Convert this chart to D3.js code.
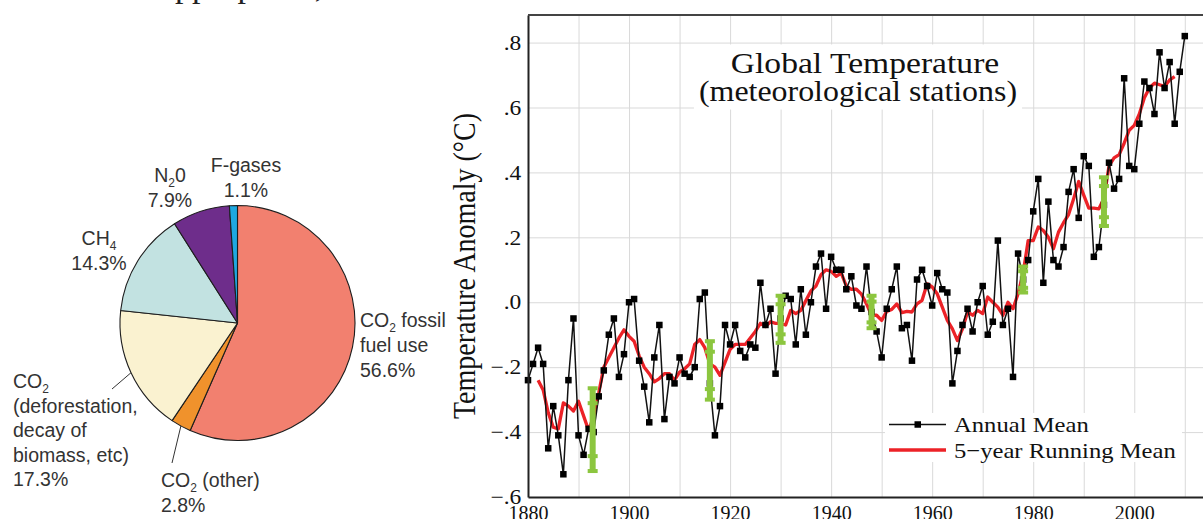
<!DOCTYPE html>
<html>
<head>
<meta charset="utf-8">
<script src="https://cdn.jsdelivr.net/npm/d3@7"></script>
<style>
  html, body { margin: 0; padding: 0; background: #fff; }
  svg { display: block; }
</style>
</head>
<body>
<svg id="chart" width="1203" height="519"></svg>
<script>
// ---------- pie data (greenhouse gas shares, %)
const pieCategories = ["CO2 fossil fuel use", "CO2 (other)", "CO2 (deforestation, decay of biomass, etc)", "CH4", "N2O", "F-gases"];
const pieValues = [56.6, 2.8, 17.3, 14.3, 7.9, 1.1];
const pieColors = ["#f2806f", "#f0922c", "#faf2d0", "#c2e2e1", "#6e2d8b", "#1ea8e0"];

// ---------- global temperature anomaly (°C), annual mean 1880-2010
const firstYear = 1880;
const annualMean = [
  -0.24, -0.19, -0.14, -0.19, -0.45, -0.32, -0.41, -0.53, -0.24, -0.05,
  -0.41, -0.47, -0.39, -0.40, -0.29, -0.21, -0.10, -0.05, -0.23, -0.16,
   0.00,  0.01, -0.18, -0.26, -0.37, -0.17, -0.07, -0.36, -0.23, -0.25,
  -0.17, -0.22, -0.23, -0.20,  0.01,  0.03, -0.25, -0.41, -0.32, -0.07,
  -0.13, -0.07, -0.15, -0.17, -0.13, -0.14,  0.06, -0.07, -0.02, -0.22,
  -0.05,  0.02,  0.01, -0.13,  0.04, -0.10,  0.00,  0.11,  0.15, -0.02,
   0.14,  0.10,  0.10,  0.04,  0.08, -0.01, -0.02,  0.11, -0.03, -0.09,
  -0.17, -0.02,  0.04,  0.11, -0.08, -0.07, -0.18,  0.07,  0.10,  0.05,
  -0.01,  0.09,  0.04,  0.03, -0.25, -0.15, -0.07, -0.02, -0.09,  0.00,
   0.05, -0.10, -0.06,  0.19, -0.07, -0.02, -0.23,  0.15,  0.07,  0.13,
   0.28,  0.38,  0.06,  0.31,  0.13,  0.11,  0.17,  0.34,  0.41,  0.26,
   0.45,  0.42,  0.14,  0.17,  0.30,  0.43,  0.35,  0.38,  0.69,  0.42,
   0.41,  0.55,  0.68,  0.66,  0.58,  0.77,  0.66,  0.74,  0.55,  0.71,
   0.82
];

// 5-year running mean, 1882-2008
const runningFirstYear = 1882;
const runningMean = [
                -0.24, -0.27, -0.34, -0.385, -0.39, -0.31, -0.32, -0.335,
  -0.305, -0.35, -0.395, -0.35, -0.28, -0.20, -0.17, -0.14, -0.11, -0.085,
  -0.105, -0.12, -0.165, -0.20, -0.22, -0.245, -0.235, -0.22, -0.22, -0.24,
  -0.215, -0.205, -0.19, -0.13, -0.115, -0.14, -0.19, -0.20, -0.225, -0.185,
  -0.145, -0.13, -0.13, -0.13, -0.11, -0.09, -0.065, -0.075, -0.06, -0.065,
  -0.065, -0.07, -0.025, -0.035, -0.025, 0.005, 0.035, 0.05, 0.085, 0.10,
   0.095, 0.08, 0.09, 0.05, 0.04, 0.04, 0.025, -0.005, -0.04, -0.04,
  -0.056, -0.028, -0.022, -0.005, -0.032, -0.028, -0.03, -0.005, 0.006, 0.057,
   0.047, 0.026, -0.015, -0.056, -0.082, -0.118, -0.082, -0.03, -0.04, -0.025,
  -0.035, 0.016, 0.0, -0.015, -0.04, 0.0, -0.02, 0.026, 0.09, 0.19,
   0.19, 0.232, 0.221, 0.20, 0.165, 0.216, 0.245, 0.27, 0.319, 0.372,
   0.33, 0.29, 0.29, 0.288, 0.32, 0.42, 0.445, 0.455, 0.49, 0.53,
   0.545, 0.58, 0.63, 0.66, 0.675, 0.67, 0.665, 0.685, 0.695
];

// uncertainty bars (green)
const errYears = [1892.8, 1916, 1930, 1948, 1978, 1994];
const errHigh = [-0.265, -0.12, 0.02, 0.02, 0.11, 0.385];
const errLow = [-0.52, -0.30, -0.125, -0.08, 0.03, 0.235];

// axes
const yTicks = [-0.6, -0.4, -0.2, 0.0, 0.2, 0.4, 0.6, 0.8];
const yTickLabels = ["\u2212.6", "\u2212.4", "\u2212.2", ".0", ".2", ".4", ".6", ".8"];
const xTicks = [1880, 1900, 1920, 1940, 1960, 1980, 2000];
const xTickLabels = ["1880", "1900", "1920", "1940", "1960", "1980", "2000"];
const xGrid = [1880, 1890, 1900, 1910, 1920, 1930, 1940, 1950, 1960, 1970, 1980, 1990, 2000, 2010];

const serif = "'Liberation Serif', 'DejaVu Serif', serif";
const sans = "'Liberation Sans', Arial, sans-serif";
const svg = d3.select("#chart");

// clipped line of the page text above the figure
svg.append("text")
  .attr("x", 160).attr("y", -3.5)
  .style("font-family", serif).style("font-size", "34px").attr("fill", "#222")
  .text("appropriate,");

// ================= PIE =================
const pieCx = 237.5, pieCy = 323, pieR = 117.5;
const pie = d3.pie().sort(null).value(d => d);
const arc = d3.arc().innerRadius(0).outerRadius(pieR);
const arcs = pie(pieValues);

const pg = svg.append("g").attr("transform", `translate(${pieCx},${pieCy})`);
pg.selectAll("path")
  .data(arcs)
  .enter()
  .append("path")
  .attr("d", arc)
  .attr("fill", (d, i) => pieColors[i])
  .attr("stroke", "#1e1e1e")
  .attr("stroke-width", 1.1)
  .attr("stroke-linejoin", "round");

// leader lines for the two lower labels
const leaderEnds = { 1: [172 - pieCx, 463 - pieCy], 2: [112 - pieCx, 389 - pieCy] };
Object.keys(leaderEnds).forEach(k => {
  const a = arcs[k];
  const mid = (a.startAngle + a.endAngle) / 2;
  pg.append("line")
    .attr("x1", Math.sin(mid) * pieR).attr("y1", -Math.cos(mid) * pieR)
    .attr("x2", leaderEnds[k][0]).attr("y2", leaderEnds[k][1])
    .attr("stroke", "#333").attr("stroke-width", 1);
});

// labels: each line is a list of [text, isSubscript]
const pct = i => pieValues[i].toFixed(1) + "%";
const pieLabels = [
  { x: 360, y: 327, lh: 25, anchor: "start",
    lines: [[["CO", 0], ["2", 1], [" fossil", 0]], [["fuel use", 0]], [[pct(0), 0]]] },
  { x: 161, y: 487, lh: 25, anchor: "start",
    lines: [[["CO", 0], ["2", 1], [" (other)", 0]], [[pct(1), 0]]] },
  { x: 13, y: 388, lh: 24.5, anchor: "start",
    lines: [[["CO", 0], ["2", 1]], [["(deforestation,", 0]], [["decay of", 0]], [["biomass, etc)", 0]], [[pct(2), 0]]] },
  { x: 99, y: 245, lh: 25, anchor: "middle",
    lines: [[["CH", 0], ["4", 1]], [[pct(3), 0]]] },
  { x: 170, y: 182, lh: 25, anchor: "middle",
    lines: [[["N", 0], ["2", 1], ["0", 0]], [[pct(4), 0]]] },
  { x: 246, y: 172, lh: 25, anchor: "middle",
    lines: [[["F-gases", 0]], [[pct(5), 0]]] }
];
pieLabels.forEach(lab => {
  lab.lines.forEach((segs, li) => {
    const t = svg.append("text")
      .attr("x", lab.x).attr("y", lab.y + li * lab.lh)
      .attr("text-anchor", lab.anchor)
      .style("font-family", sans).style("font-size", "19.5px").attr("fill", "#333");
    let shifted = false;
    segs.forEach(([s, sub]) => {
      const ts = t.append("tspan").text(s);
      if (sub) { ts.style("font-size", "12px").attr("dy", 5); shifted = true; }
      else if (shifted) { ts.attr("dy", -5); shifted = false; }
    });
  });
});

// ================= TEMPERATURE CHART =================
const pLeft = 528, pTop = 15, pBottom = 497, pRight = 1205;
const x = d3.scaleLinear().domain([1880, 2014]).range([pLeft, pRight]);
const y = d3.scaleLinear().domain([-0.6, 0.885]).range([pBottom, pTop]);
const sx = 1.12; // the figure is slightly stretched horizontally

svg.append("defs").append("clipPath").attr("id", "plotclip")
  .append("rect").attr("x", pLeft).attr("y", pTop).attr("width", pRight - pLeft).attr("height", pBottom - pTop);

// grid
const grid = svg.append("g").attr("clip-path", "url(#plotclip)");
grid.append("g")
  .attr("transform", `translate(${pLeft},0)`)
  .call(d3.axisLeft(y).tickValues(yTicks).tickSize(-(pRight - pLeft)).tickFormat(""))
  .call(g => g.select(".domain").remove())
  .call(g => g.selectAll("line").attr("stroke", "#d9d9d9").attr("stroke-width", 1));
grid.append("g")
  .attr("transform", `translate(0,${pBottom})`)
  .call(d3.axisBottom(x).tickValues(xGrid).tickSize(-(pBottom - pTop)).tickFormat(""))
  .call(g => g.select(".domain").remove())
  .call(g => g.selectAll("line").attr("stroke", "#d9d9d9").attr("stroke-width", 1));

// title with white boxes (boxes first, then the text on top)
function stretchedText(g, tx, ty, str, size, anchor) {
  return g.append("text")
    .attr("transform", `translate(${tx},${ty}) scale(${sx},1)`)
    .attr("text-anchor", anchor)
    .style("font-family", serif).style("font-size", size + "px").attr("fill", "#111")
    .text(str);
}
const titleBoxes = svg.append("g");
const titleG = svg.append("g");
const titleLines = [["Global Temperature", 865, 73, 30], ["(meteorological stations)", 858, 101, 28.5]];
titleLines.forEach(([s, cx, by, fs]) => {
  const t = stretchedText(titleG, cx, by, s, fs, "middle");
  const w = t.node().getComputedTextLength() * sx;
  titleBoxes.append("rect").attr("fill", "#fff")
    .attr("x", cx - w / 2 - 5).attr("y", by - fs * 0.95).attr("width", w + 10).attr("height", fs * 1.25);
});

// running mean
svg.append("path")
  .datum(runningMean)
  .attr("fill", "none")
  .attr("stroke", "#ec2227")
  .attr("stroke-width", 3.3)
  .attr("stroke-linejoin", "round")
  .attr("d", d3.line().x((d, i) => x(runningFirstYear + i)).y(d => y(d)));

// annual mean
svg.append("path")
  .datum(annualMean)
  .attr("fill", "none")
  .attr("stroke", "#111")
  .attr("stroke-width", 1.5)
  .attr("d", d3.line().x((d, i) => x(firstYear + i)).y(d => y(d)));
svg.append("g").selectAll("rect")
  .data(annualMean)
  .enter()
  .append("rect")
  .attr("x", (d, i) => x(firstYear + i) - 3.25)
  .attr("y", d => y(d) - 3.25)
  .attr("width", 6.5).attr("height", 6.5)
  .attr("fill", "#000");

// uncertainty bars
const eg = svg.append("g").attr("fill", "#8cc63f");
errYears.forEach((yr, i) => {
  const cx = x(yr), y0 = y(errHigh[i]), y1 = y(errLow[i]);
  const inner = (y1 - y0) * 0.18;
  eg.append("rect").attr("x", cx - 3).attr("y", y0).attr("width", 6).attr("height", y1 - y0);
  [y0, y0 + inner, y1 - inner, y1].forEach(cy => {
    eg.append("rect").attr("x", cx - 5).attr("y", cy - 2).attr("width", 10).attr("height", 4);
  });
});

// legend
const lg = svg.append("g");
lg.append("rect").attr("x", 885).attr("y", 413).attr("width", 297).attr("height", 49).attr("fill", "#fff");
lg.append("line").attr("x1", 889).attr("x2", 946).attr("y1", 424.5).attr("y2", 424.5).attr("stroke", "#111").attr("stroke-width", 1.5);
lg.append("rect").attr("x", 914.5).attr("y", 421.25).attr("width", 6.5).attr("height", 6.5).attr("fill", "#000");
lg.append("line").attr("x1", 889).attr("x2", 946).attr("y1", 450).attr("y2", 450).attr("stroke", "#ec2227").attr("stroke-width", 3.3);
stretchedText(lg, 954, 432, "Annual Mean", 22, "start");
stretchedText(lg, 954, 457.5, "5\u2212year Running Mean", 22, "start");

// axes
const yAxis = svg.append("g")
  .attr("transform", `translate(${pLeft},0)`)
  .call(d3.axisLeft(y).tickValues(yTicks).tickFormat((d, i) => yTickLabels[i]).tickSize(0).tickPadding(6));
yAxis.select(".domain").attr("stroke", "#222").attr("stroke-width", 2);
yAxis.selectAll("text")
  .style("font-family", serif).style("font-size", "21px").attr("fill", "#111")
  .attr("transform", `scale(${sx},1)`);

const xAxis = svg.append("g")
  .attr("transform", `translate(0,${pBottom})`)
  .call(d3.axisBottom(x).tickValues(xTicks).tickFormat((d, i) => xTickLabels[i]).tickSize(0).tickPadding(9));
xAxis.select(".domain").attr("stroke", "#222").attr("stroke-width", 2);
xAxis.selectAll("text")
  .style("font-family", serif).style("font-size", "20px").attr("fill", "#111");

// top frame
svg.append("line").attr("x1", pLeft).attr("x2", pRight).attr("y1", pTop).attr("y2", pTop)
  .attr("stroke", "#444").attr("stroke-width", 2);

// y axis title
svg.append("text")
  .attr("transform", `translate(475,266) scale(${sx + 0.03},1) rotate(-90)`)
  .attr("text-anchor", "middle")
  .style("font-family", serif).style("font-size", "28px").attr("fill", "#111")
  .text("Temperature Anomaly (\u00B0C)");
</script>
</body>
</html>
